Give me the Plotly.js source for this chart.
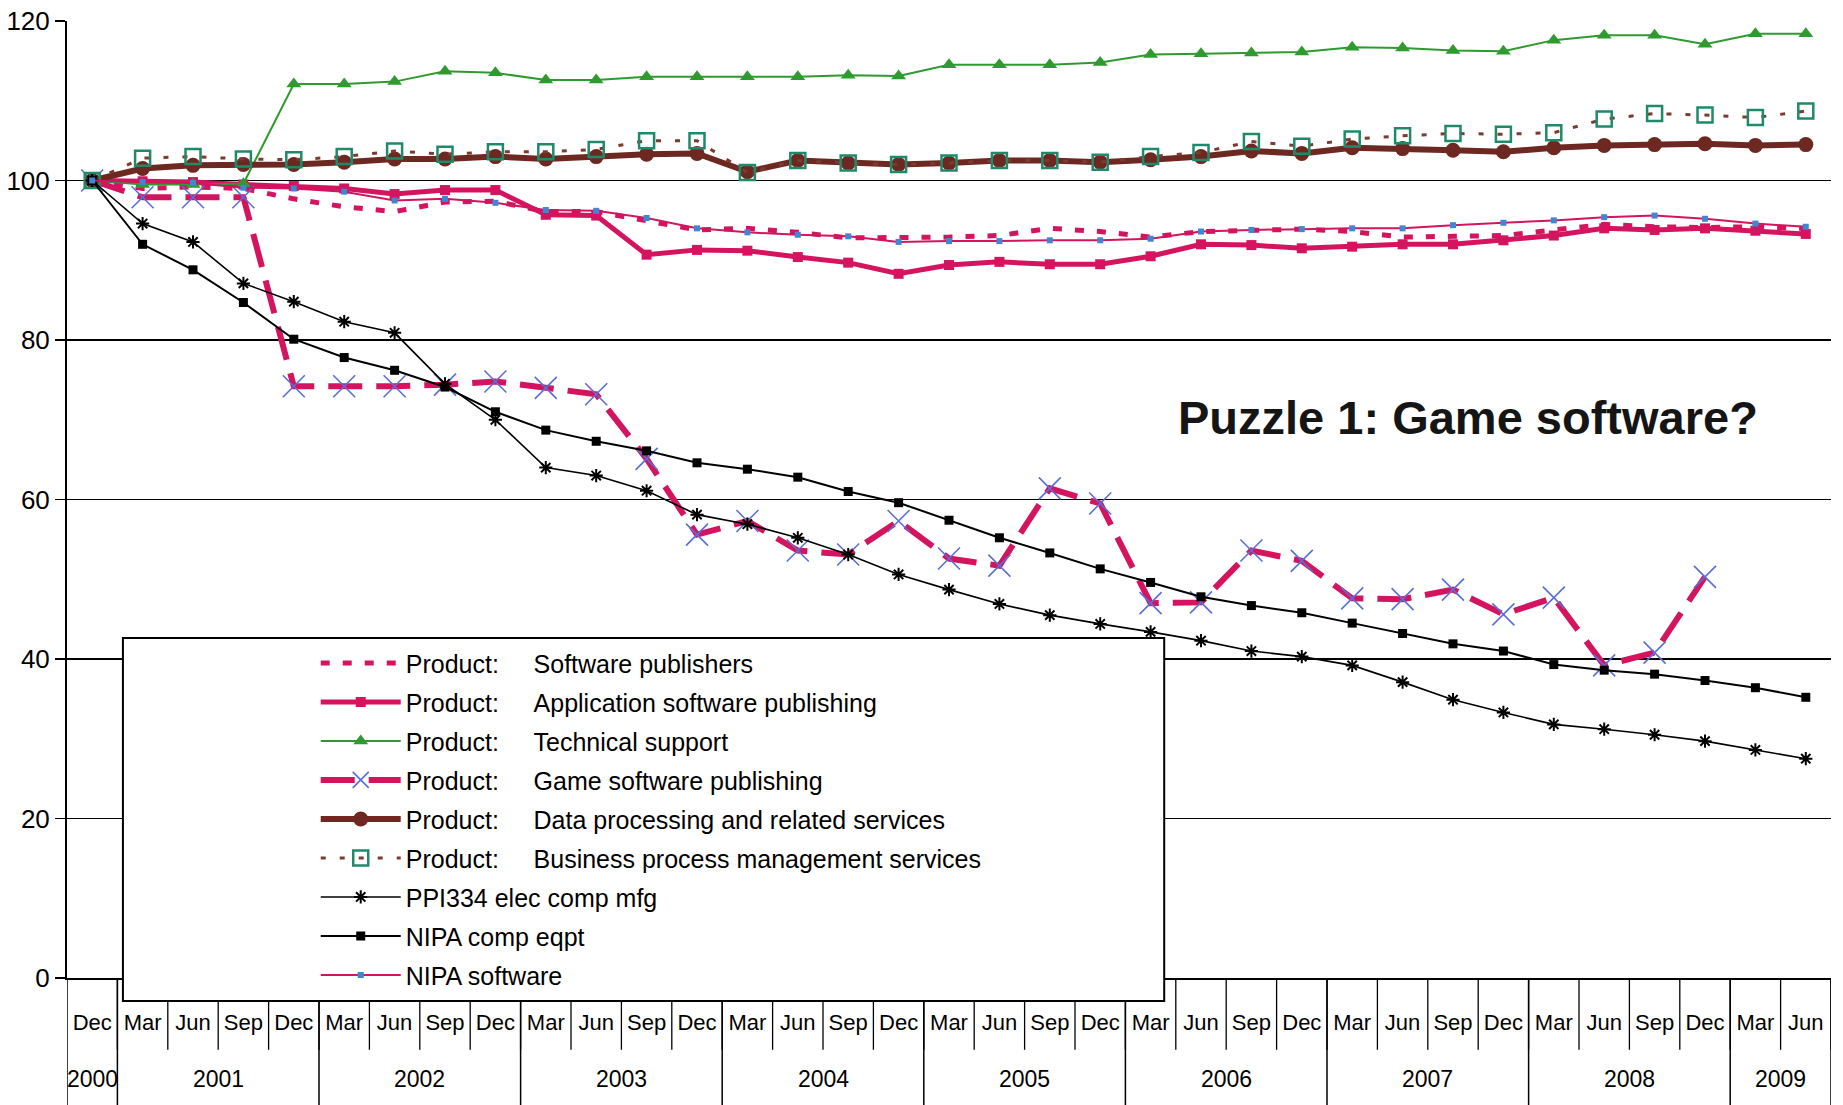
<!DOCTYPE html>
<html>
<head>
<meta charset="utf-8">
<script src="https://cdn.plot.ly/plotly-3.0.1.min.js"></script>
<style>
  html, body { margin: 0; padding: 0; background: #ffffff; }
  #chart { width: 1843px; height: 1105px; }
</style>
</head>
<body>
<div id="chart"></div>
<script>
// ---- Data (quarterly index, Dec 2000 = 100) ----
const months = ['Dec','Mar','Jun','Sep','Dec','Mar','Jun','Sep','Dec','Mar','Jun','Sep','Dec',
  'Mar','Jun','Sep','Dec','Mar','Jun','Sep','Dec','Mar','Jun','Sep','Dec','Mar','Jun','Sep','Dec',
  'Mar','Jun','Sep','Dec','Mar','Jun'];
const years = ['2000','2001','2001','2001','2001','2002','2002','2002','2002','2003','2003','2003','2003',
  '2004','2004','2004','2004','2005','2005','2005','2005','2006','2006','2006','2006','2007','2007','2007','2007',
  '2008','2008','2008','2008','2009','2009'];

const softwarePublishers = [100, 99.0, 99.2, 99.0, 97.7, 96.7, 96.1, 97.3, 97.4, 96.1, 96.1, 95.0, 93.8,
  94.0, 93.5, 92.8, 92.8, 92.9, 93.1, 94.0, 93.6, 92.9, 93.6, 93.8, 93.9, 93.6, 92.9, 93.0, 93.1,
  93.8, 94.5, 94.2, 94.1, 94.2, 94.0];
const appSoftware = [100, 99.9, 99.8, 99.5, 99.3, 99.0, 98.3, 98.8, 98.8, 95.7, 95.6, 90.7, 91.3,
  91.2, 90.4, 89.7, 88.3, 89.4, 89.8, 89.5, 89.5, 90.5, 92.0, 91.9, 91.5, 91.7, 92.0, 92.0, 92.5,
  93.1, 94.0, 93.8, 94.0, 93.7, 93.3];
const techSupport = [100, 99.5, 99.5, 99.6, 112.1, 112.1, 112.4, 113.7, 113.5, 112.6, 112.6, 113.0, 113.0,
  113.0, 113.0, 113.2, 113.1, 114.5, 114.5, 114.5, 114.8, 115.8, 115.9, 116.0, 116.1, 116.7, 116.6, 116.3, 116.2,
  117.6, 118.2, 118.2, 117.1, 118.4, 118.4];
const gameSoftware = [100, 97.9, 97.9, 97.9, 74.2, 74.2, 74.2, 74.4, 74.8, 74.0, 73.2, 65.1, 55.6,
  57.3, 53.6, 53.1, 57.3, 52.6, 51.7, 61.4, 59.5, 47.0, 47.1, 53.6, 52.3, 47.6, 47.5, 48.7, 45.6,
  47.7, 39.2, 40.8, 50.3, null, null];
const dataProcessing = [100, 101.5, 101.9, 102.0, 102.0, 102.3, 102.7, 102.7, 103.0, 102.7, 103.0, 103.3, 103.4,
  101.1, 102.5, 102.2, 102.0, 102.2, 102.5, 102.5, 102.3, 102.6, 103.0, 103.7, 103.4, 104.1, 104.0, 103.8, 103.6,
  104.1, 104.4, 104.5, 104.6, 104.4, 104.5];
const bizProcess = [100, 102.8, 103.0, 102.7, 102.6, 103.0, 103.7, 103.3, 103.6, 103.6, 103.9, 105.0, 105.0,
  101.0, 102.5, 102.2, 102.0, 102.2, 102.5, 102.5, 102.3, 103.0, 103.5, 104.9, 104.3, 105.2, 105.6, 105.9, 105.8,
  106.0, 107.7, 108.4, 108.2, 107.9, 108.7];
const ppi334 = [100, 94.6, 92.3, 87.1, 84.8, 82.3, 80.9, 74.5, 70.0, 64.0, 63.0, 61.1, 58.1,
  56.9, 55.2, 53.1, 50.6, 48.7, 46.9, 45.5, 44.4, 43.4, 42.3, 41.0, 40.3, 39.2, 37.1, 34.9, 33.3,
  31.8, 31.2, 30.5, 29.7, 28.6, 27.5];
const nipaCompEqpt = [100, 92.0, 88.8, 84.7, 80.1, 77.8, 76.2, 74.1, 71.0, 68.7, 67.3, 66.1, 64.6,
  63.8, 62.8, 61.0, 59.6, 57.4, 55.2, 53.3, 51.3, 49.6, 47.8, 46.7, 45.8, 44.5, 43.2, 41.9, 41.0,
  39.3, 38.6, 38.1, 37.3, 36.4, 35.2];
const nipaSoftware = [100, 99.8, 99.7, 99.1, 99.0, 98.6, 97.5, 97.7, 97.2, 96.3, 96.2, 95.3, 94.0,
  93.5, 93.2, 93.0, 92.3, 92.4, 92.4, 92.5, 92.5, 92.7, 93.6, 93.8, 93.9, 94.0, 94.0, 94.4, 94.7,
  95.0, 95.4, 95.6, 95.2, 94.6, 94.2];

const seriesNames = [
  'Product:\u00a0\u00a0\u00a0\u00a0\u00a0Software publishers',
  'Product:\u00a0\u00a0\u00a0\u00a0\u00a0Application software publishing',
  'Product:\u00a0\u00a0\u00a0\u00a0\u00a0Technical support',
  'Product:\u00a0\u00a0\u00a0\u00a0\u00a0Game software publishing',
  'Product:\u00a0\u00a0\u00a0\u00a0\u00a0Data processing and related services',
  'Product:\u00a0\u00a0\u00a0\u00a0\u00a0Business process management services',
  'PPI334 elec comp mfg',
  'NIPA comp eqpt',
  'NIPA software'
];
const chartNote = 'Puzzle 1: Game software?';

// ---- Styling ----
const FONT = 'Liberation Sans, Arial, Helvetica, sans-serif';
const PINK = '#d4145f';
const GREEN = '#2f9a2f';
const BROWN = '#6e2822';
const xs = months.map((_, i) => i);

const traces = [
  { x: xs, y: softwarePublishers, name: seriesNames[0], mode: 'lines',
    line: { color: PINK, width: 5, dash: '9px,13px' } },
  { x: xs, y: appSoftware, name: seriesNames[1], mode: 'lines+markers',
    line: { color: PINK, width: 5 }, marker: { symbol: 'square', size: 10, color: PINK } },
  { x: xs, y: techSupport, name: seriesNames[2], mode: 'lines+markers',
    line: { color: GREEN, width: 2 }, marker: { symbol: 'triangle-up', size: 13, color: GREEN } },
  { x: xs, y: gameSoftware, name: seriesNames[3], mode: 'lines+markers', connectgaps: false,
    line: { color: PINK, width: 6, dash: '34px,14px' },
    marker: { symbol: 'x-thin-open', size: 22, color: '#5a6fd6', line: { color: '#5a6fd6', width: 1.6 } } },
  { x: xs, y: dataProcessing, name: seriesNames[4], mode: 'lines+markers',
    line: { color: BROWN, width: 6 }, marker: { symbol: 'circle', size: 15, color: BROWN } },
  { x: xs, y: bizProcess, name: seriesNames[5], mode: 'lines+markers',
    line: { color: '#7a3b30', width: 3, dash: '5px,14px' },
    marker: { symbol: 'square-open', size: 15, color: '#1f8a6a', line: { color: '#1f8a6a', width: 2.5 } } },
  { x: xs, y: ppi334, name: seriesNames[6], mode: 'lines+markers',
    line: { color: '#000', width: 1.6 },
    marker: { symbol: 'asterisk-open', size: 11, color: '#000', line: { color: '#000', width: 2 } } },
  { x: xs, y: nipaCompEqpt, name: seriesNames[7], mode: 'lines+markers',
    line: { color: '#000', width: 2 }, marker: { symbol: 'square', size: 9, color: '#000' } },
  { x: xs, y: nipaSoftware, name: seriesNames[8], mode: 'lines+markers',
    line: { color: PINK, width: 2 }, marker: { symbol: 'square', size: 6, color: '#3f86d4' } }
];
traces.forEach((t, i) => { t.legendgroup = 'g' + i; });

// year groups (labels + dividers) derived from the years array
const groups = [];
years.forEach((yr, i) => {
  const g = groups[groups.length - 1];
  if (g && g.year === yr) g.end = i; else groups.push({ year: yr, start: i, end: i });
});
const yearBounds = groups.map(g => g.start - 0.5).concat([groups[groups.length - 1].end + 0.5]);
const monthBounds = xs.map(i => i + 0.5);

const shapes = [];
// month cell dividers
monthBounds.forEach(b => shapes.push({
  type: 'line', xref: 'x', yref: 'paper', x0: b, x1: b, y0: 0, y1: -0.075,
  line: { color: '#000', width: 1.3 }, layer: 'above'
}));
// year dividers
yearBounds.forEach(b => shapes.push({
  type: 'line', xref: 'x', yref: 'paper', x0: b, x1: b, y0: 0, y1: -0.14,
  line: { color: '#000', width: 1.5 }, layer: 'above'
}));
// legend frame
shapes.push({ type: 'rect', xref: 'paper', yref: 'paper', x0: 0.0317, x1: 0.622, y0: -0.024, y1: 0.3553,
  line: { color: '#000', width: 2 }, fillcolor: '#ffffff', layer: 'above' });

const annotations = groups.map(g => ({
  x: (g.start + g.end) / 2, xref: 'x', y: -0.106, yref: 'paper', text: g.year, showarrow: false,
  xanchor: 'center', yanchor: 'middle', font: { family: FONT, size: 23, color: '#000' }
}));
annotations.push({ x: 0.794, xref: 'paper', y: 0.586, yref: 'paper', text: '<b>' + chartNote + '</b>',
  showarrow: false, xanchor: 'center', yanchor: 'middle', font: { family: FONT, size: 47, color: '#151515' } });

const layout = {
  width: 1843, height: 1105,
  margin: { l: 67, r: 12, t: 21, b: 127 },
  paper_bgcolor: '#ffffff', plot_bgcolor: '#ffffff',
  font: { family: FONT, color: '#000' },
  hovermode: false,
  showlegend: true,
  legend: { x: 0.141, y: 0.353, xanchor: 'left', yanchor: 'top', bgcolor: 'rgba(0,0,0,0)',
    borderwidth: 0, itemwidth: 80, traceorder: 'grouped', tracegroupgap: 3.5,
    font: { family: FONT, size: 25, color: '#000' } },
  xaxis: {
    range: [-0.5, 34.5], tickmode: 'array', tickvals: xs, ticktext: months,
    ticks: '', showgrid: false, zeroline: false, showline: true, linecolor: '#000', linewidth: 2,
    ticklabelstandoff: 24,
    tickfont: { family: FONT, size: 22, color: '#000' }
  },
  yaxis: {
    range: [0, 120], tickmode: 'linear', tick0: 0, dtick: 20,
    showgrid: true, gridcolor: '#000', gridwidth: 1.5, zeroline: false,
    showline: true, linecolor: '#000', linewidth: 2,
    ticks: 'outside', ticklen: 10, tickwidth: 1.5, tickcolor: '#000',
    tickfont: { family: FONT, size: 26, color: '#000' }
  },
  shapes: shapes,
  annotations: annotations
};

Plotly.newPlot('chart', traces, layout, { displayModeBar: false, staticPlot: true });
</script>
</body>
</html>
